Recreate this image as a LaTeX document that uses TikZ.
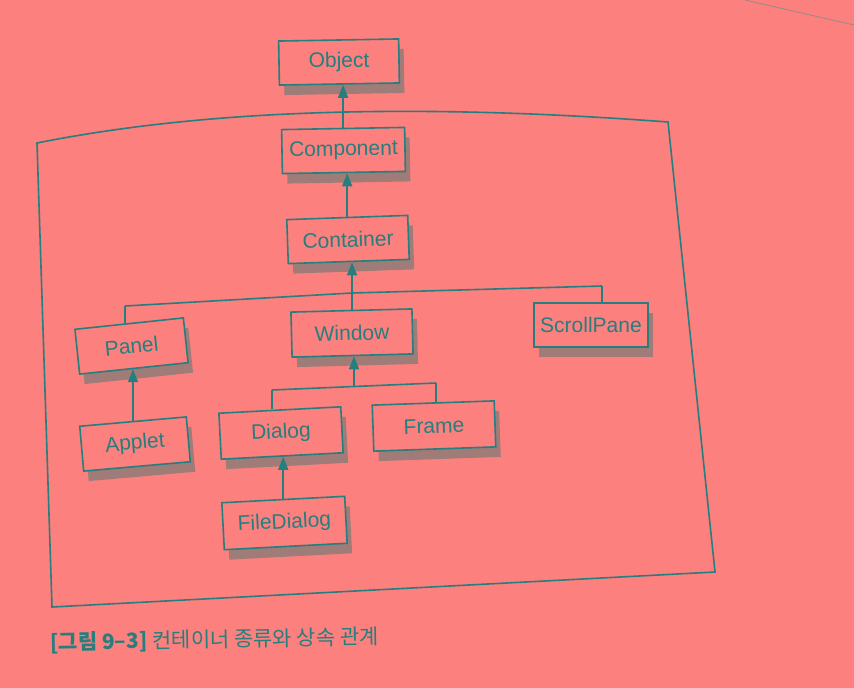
\documentclass[tikz,border=0pt]{standalone}
\usepackage{fontspec}
\setmainfont{Liberation Sans}
\newfontfamily\krfont{Noto Sans CJK KR}
\usetikzlibrary{arrows.meta,shadows,calc}
\definecolor{bgc}{RGB}{252,128,126}
\definecolor{linec}{RGB}{38,126,126}
\definecolor{shadowc}{RGB}{70,122,118}
\definecolor{pagec}{RGB}{150,140,140}

\begin{document}
\begin{tikzpicture}[x=1pt, y=-1pt,
  cls/.style={draw=linec, line width=1.6pt, fill=bgc, text=linec,
    font=\fontsize{21}{25}\selectfont, minimum height=44pt, minimum width=#1, inner sep=0pt,
    drop shadow={shadow xshift=5pt, shadow yshift=-10pt, fill=shadowc, opacity=0.5}},
  cls/.default=121pt,
  conn/.style={linec, line width=1.6pt},
  inh/.style={conn, -{Triangle[width=10pt,length=13pt]}}]
  \fill[bgc] (0,0) rectangle (854,688);
  \useasboundingbox (0,0) rectangle (854,688);
  \draw[pagec, line width=0.8pt] (745,0) -- (854,25);
  % container frame
  \draw[conn] (37,143) .. controls (237,103) and (468,107) .. (668,122) -- (715,572) -- (52,607) -- cycle;

  \node[cls=120pt, rotate=1] (object) at (339,62) {Object};
  \node[cls=123pt, rotate=1] (component) at (343.5,150.5) {Component};
  \node[cls, rotate=2] (container) at (348,239.5) {Container};
  \node[cls=109pt, minimum height=45pt, rotate=6] (panel) at (131.5,346) {Panel};
  \node[cls, minimum height=45pt, rotate=1.5] (window) at (352,333) {Window};
  \node[cls=114pt] (scrollpane) at (591,325) {ScrollPane};
  \node[cls=107pt, minimum height=45pt, rotate=5] (applet) at (135,444) {Applet};
  \node[cls=122pt, minimum height=46pt, rotate=3] (dialog) at (281,433) {Dialog};
  \node[cls=122pt, minimum height=46pt, rotate=2] (frame) at (434,426) {Frame};
  \node[cls=123pt, minimum height=47pt, rotate=3] (filedialog) at (284.5,523) {FileDialog};

  \coordinate (bl) at (125,306);
  \coordinate (bm) at (352,293);
  \coordinate (br) at (602,286);
  \coordinate (wl) at (272,390);
  \coordinate (wm) at (354,386.5);
  \coordinate (wr) at (436,383);

  \draw[inh] (component.north) -- (component.north |- object.south);
  \draw[inh] (container.north) -- (container.north |- component.south);
  \draw[conn] (bl) -- (bm) -- (br);
  \draw[conn] (bl) -- (bl |- panel.north);
  \draw[conn] (br) -- (br |- scrollpane.north);
  \draw[conn] (bm) -- (bm |- window.north);
  \draw[inh] (bm) -- (bm |- container.south);
  \draw[conn] (wl) -- (wm) -- (wr);
  \draw[conn] (wl) -- (wl |- dialog.north);
  \draw[conn] (wr) -- (wr |- frame.north);
  \draw[inh] (wm) -- (wm |- window.south);
  \draw[inh] (applet.north) -- (applet.north |- panel.south);
  \draw[inh] (filedialog.north) -- (filedialog.north |- dialog.south);

  \node[font=\krfont\fontsize{21}{25}\selectfont, text=linec, anchor=west, rotate=1, inner sep=0pt]
    (caption) at (50,643) {{\bfseries [그림 9–3]} 컨테이너 종류와 상속 관계};
\end{tikzpicture}
\end{document}
